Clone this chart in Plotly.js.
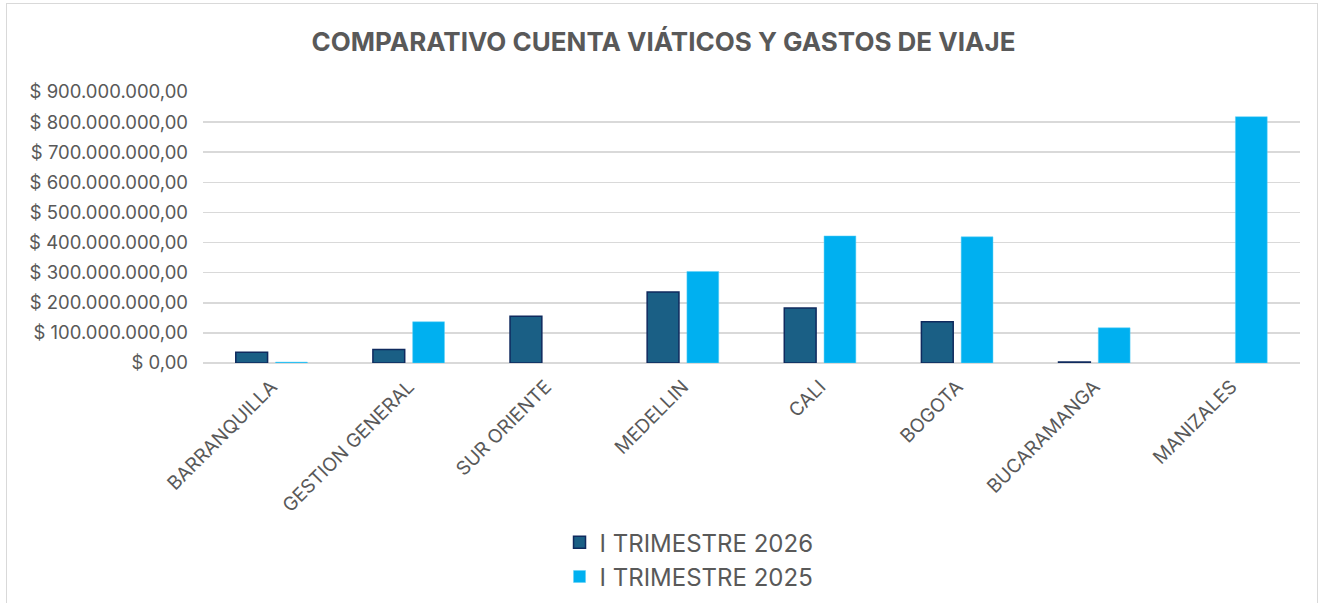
<!DOCTYPE html>
<html>
<head>
<meta charset="utf-8">
<script src="https://cdn.plot.ly/plotly-3.0.1.min.js"></script>
<style>
html,body{margin:0;padding:0;background:#fff;}
#frame{position:absolute;left:6px;top:3px;width:1312px;height:610px;border:1px solid #d9d9d9;box-sizing:border-box;}
#chart{position:absolute;left:0;top:0;width:1327px;height:603px;}
</style>
</head>
<body>
<div id="frame"></div>
<div id="chart"></div>
<script>
const categories = ["BARRANQUILLA","GESTION GENERAL","SUR ORIENTE","MEDELLIN","CALI","BOGOTA","BUCARAMANGA","MANIZALES"];
const trimestre2026 = [36000000, 45000000, 155000000, 236000000, 183000000, 137000000, 3000000, null];
const trimestre2025 = [3000000, 137000000, null, 304000000, 422000000, 419000000, 117000000, 818000000];
const tickValues = [0,100000000,200000000,300000000,400000000,500000000,600000000,700000000,800000000,900000000];
const tickLabels = ["$ 0,00","$ 100.000.000,00","$ 200.000.000,00","$ 300.000.000,00","$ 400.000.000,00","$ 500.000.000,00","$ 600.000.000,00","$ 700.000.000,00","$ 800.000.000,00","$ 900.000.000,00"];

const FONT = "Inter, 'Open Sans', 'Liberation Sans', sans-serif";
const GRAY = "#595959";

const traces = [
  {type:"bar", name:"I TRIMESTRE 2026", x:categories, y:trimestre2026,
   marker:{color:"#1a5f85", line:{color:"#0f2a5e", width:1.5}}, hoverinfo:"x+y"},
  {type:"bar", name:"I TRIMESTRE 2025", x:categories, y:trimestre2025,
   marker:{color:"#00b0f0", line:{color:"#5fd0f7", width:0.5}}, hoverinfo:"x+y"}
];

const layout = {
  width:1327, height:603,
  paper_bgcolor:"rgba(0,0,0,0)", plot_bgcolor:"#fff",
  margin:{l:203, r:27, t:92, b:240, autoexpand:false},
  font:{family:FONT, color:GRAY, size:16},
  title:{text:"<b>COMPARATIVO CUENTA VIÁTICOS Y GASTOS DE VIAJE</b>", x:0.5, xanchor:"center", y:0.93, yanchor:"middle",
         font:{family:FONT, size:26, color:GRAY}},
  barmode:"group", bargap:0.42, bargroupgap:0.2,
  xaxis:{tickangle:-45, tickfont:{size:19, color:GRAY, family:FONT}, showline:false, ticks:"", showgrid:false, zeroline:false,
         automargin:false, ticklabelstandoff:8},
  yaxis:{range:[0,900000000], tickvals:tickValues, ticktext:tickLabels, tickfont:{size:18.5, color:GRAY, family:FONT},
         showgrid:true, gridcolor:"#d9d9d9", gridwidth:1.5, zeroline:true, zerolinecolor:"#d9d9d9", zerolinewidth:1.5,
         ticks:"", ticklen:0, automargin:false, fixedrange:true, ticklabelstandoff:14},
  showlegend:true,
  legend:{orientation:"v", x:0.325, xanchor:"left", y:-0.58, yanchor:"top", font:{size:24, color:GRAY, family:FONT},
          bgcolor:"rgba(0,0,0,0)", tracegroupgap:4, itemwidth:30}
};

Plotly.newPlot("chart", traces, layout, {displayModeBar:false, staticPlot:true});
</script>
</body>
</html>
